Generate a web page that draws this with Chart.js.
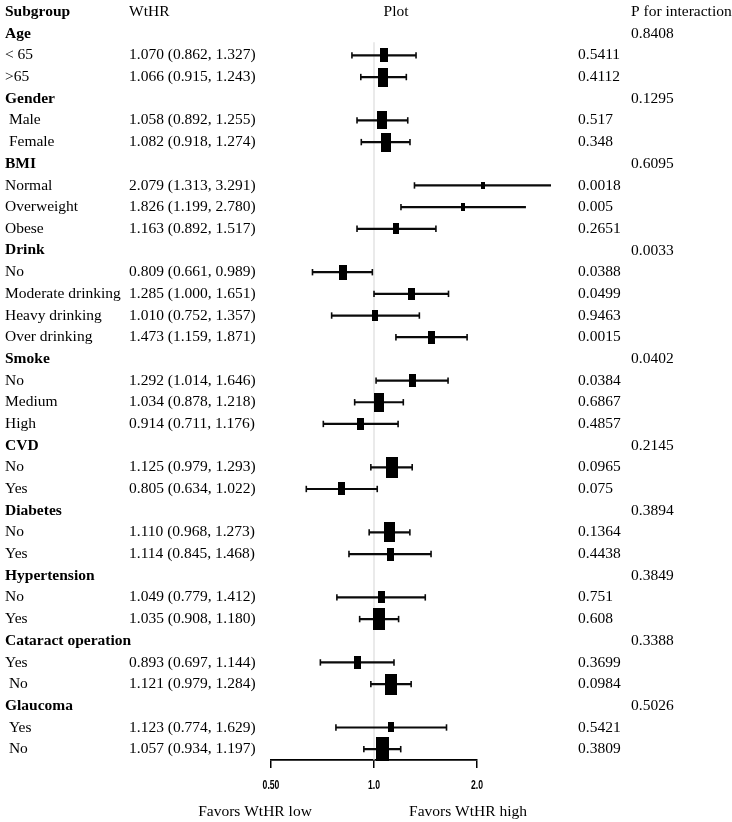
<!DOCTYPE html>
<html>
<head>
<meta charset="utf-8">
<script src="https://cdn.jsdelivr.net/npm/chart.js@4.4.0/dist/chart.umd.min.js"></script>
<style>
  html, body { margin: 0; padding: 0; background: #fff; }
  #wrap { position: relative; width: 732px; height: 822px; }
</style>
</head>
<body>
<div id="wrap"><canvas id="forest"></canvas></div>
<script>
// Lignes du tableau (les titres de groupe n'ont pas d'estimation)
const rowLabels = ['Age', '< 65', '>65', 'Gender', ' Male', ' Female', 'BMI', 'Normal', 'Overweight', 'Obese',
  'Drink', 'No', 'Moderate drinking', 'Heavy drinking', 'Over drinking', 'Smoke', 'No', 'Medium', 'High',
  'CVD', 'No', 'Yes', 'Diabetes', 'No', 'Yes', 'Hypertension', 'No', 'Yes', 'Cataract operation', 'Yes', ' No',
  'Glaucoma', ' Yes', ' No'];

const estimates = [null, 1.070, 1.066, null, 1.058, 1.082, null, 2.079, 1.826, 1.163,
  null, 0.809, 1.285, 1.010, 1.473, null, 1.292, 1.034, 0.914,
  null, 1.125, 0.805, null, 1.110, 1.114, null, 1.049, 1.035, null, 0.893, 1.121,
  null, 1.123, 1.057];
const lower = [null, 0.862, 0.915, null, 0.892, 0.918, null, 1.313, 1.199, 0.892,
  null, 0.661, 1.000, 0.752, 1.159, null, 1.014, 0.878, 0.711,
  null, 0.979, 0.634, null, 0.968, 0.845, null, 0.779, 0.908, null, 0.697, 0.979,
  null, 0.774, 0.934];
const upper = [null, 1.327, 1.243, null, 1.255, 1.274, null, 3.291, 2.780, 1.517,
  null, 0.989, 1.651, 1.357, 1.871, null, 1.646, 1.218, 1.176,
  null, 1.293, 1.022, null, 1.273, 1.468, null, 1.412, 1.180, null, 1.144, 1.284,
  null, 1.629, 1.197];

// Poids relatifs (taille des carrés)
const weights = [null, 7.0, 9.7, null, 9.0, 9.7, null, 3.5, 4.0, 5.5,
  null, 7.5, 6.0, 5.3, 6.5, null, 6.3, 9.5, 6.2,
  null, 10.3, 6.7, null, 10.0, 6.3, null, 5.8, 11.2, null, 6.7, 10.5,
  null, 4.8, 12.0];

const pValues = ['', '0.5411', '0.4112', '', '0.517', '0.348', '', '0.0018', '0.005', '0.2651',
  '', '0.0388', '0.0499', '0.9463', '0.0015', '', '0.0384', '0.6867', '0.4857',
  '', '0.0965', '0.075', '', '0.1364', '0.4438', '', '0.751', '0.608', '', '0.3699', '0.0984',
  '', '0.5421', '0.3809'];
const pInteraction = ['0.8408', '', '', '0.1295', '', '', '0.6095', '', '', '',
  '0.0033', '', '', '', '', '0.0402', '', '', '',
  '0.2145', '', '', '0.3894', '', '', '0.3849', '', '', '0.3388', '', '',
  '0.5026', '', ''];

const columnTitles = ['Subgroup', 'WtHR', 'Plot', 'P for interaction'];
const tickValues = [0.5, 1, 2];
const tickLabels = ['0.50', '1.0', '2.0'];
const favorLabels = ['Favors WtHR low', 'Favors WtHR high'];

const serif = "'Liberation Serif', 'Times New Roman', serif";

// Une ligne (avec ses extrémités) par intervalle de confiance
let ciDatasets = [];
estimates.forEach((est, i) => {
    if (est === null) return;
    ciDatasets.push({
        type: 'line',
        data: [{x: lower[i], y: i + 1}, {x: upper[i], y: i + 1}],
        borderColor: '#0a0a0a',
        borderWidth: 2.2,
        pointStyle: 'line',
        rotation: 90,
        pointRadius: 3.2,
        pointBorderWidth: 1.6,
        pointBorderColor: '#0a0a0a',
        clip: false,
        order: 1
    });
});

// Carrés noirs, plus hauts que larges
let boxPoints = [];
let boxImages = [];
estimates.forEach((est, i) => {
    if (est === null) return;
    boxPoints.push({x: est, y: i + 1});
    const h = Math.round(weights[i] * 2);
    const c = document.createElement('canvas');
    c.width = Math.max(3, Math.round(h * 0.55));
    c.height = h;
    const g = c.getContext('2d');
    g.fillStyle = '#000';
    g.fillRect(0, 0, c.width, c.height);
    boxImages.push(c);
});

const textPlugin = {
    id: 'forestText',
    afterDraw(chart) {
        const ctx = chart.ctx;
        const ys = chart.scales.y;
        const xs = chart.scales.x;
        ctx.save();
        ctx.fillStyle = '#000';
        ctx.textBaseline = 'middle';

        // En-têtes
        const y0 = ys.getPixelForValue(0);
        ctx.font = 'bold 15.5px ' + serif;
        ctx.textAlign = 'left';
        ctx.fillText(columnTitles[0], 5, y0);
        ctx.font = '15.5px ' + serif;
        ctx.fillText(columnTitles[1], 129, y0);
        ctx.textAlign = 'center';
        ctx.fillText(columnTitles[2], 396, y0);
        ctx.textAlign = 'left';
        ctx.fillText(columnTitles[3], 631, y0);

        rowLabels.forEach((label, i) => {
            const y = ys.getPixelForValue(i + 1);
            const isHeader = estimates[i] === null;
            ctx.font = (isHeader ? 'bold ' : '') + '15.5px ' + serif;
            ctx.fillText(label, 5, y);
            ctx.font = '15.5px ' + serif;
            if (!isHeader) {
                const txt = estimates[i].toFixed(3) + ' (' + lower[i].toFixed(3) + ', ' + upper[i].toFixed(3) + ')';
                ctx.fillText(txt, 129, y);
            }
            if (pValues[i]) ctx.fillText(pValues[i], 578, y);
            if (pInteraction[i]) ctx.fillText(pInteraction[i], 631, y);
        });

        // Étiquettes de l'axe, en police étroite
        ctx.font = 'bold 13.5px "Liberation Sans", Arial, sans-serif';
        ctx.textAlign = 'center';
        tickValues.forEach((v, k) => {
            ctx.save();
            ctx.translate(xs.getPixelForValue(v), ys.bottom + 25);
            ctx.scale(0.64, 1);
            ctx.fillText(tickLabels[k], 0, 0);
            ctx.restore();
        });

        const yf = ys.getPixelForValue(36.9);
        ctx.font = '15.5px ' + serif;
        ctx.textAlign = 'center';
        ctx.fillText(favorLabels[0], 255, yf);
        ctx.fillText(favorLabels[1], 468, yf);
        ctx.restore();
    }
};

new Chart(
    document.getElementById('forest'),
    {
        type: 'scatter',
        data: {
            datasets: [
                {
                    data: boxPoints,
                    pointStyle: ctx => boxImages[ctx.dataIndex],
                    pointRadius: 6,
                    clip: false,
                    order: 0
                },
                ...ciDatasets,
                {
                    type: 'line',
                    data: [{x: 1, y: 1.4}, {x: 1, y: 34.5}],
                    borderColor: '#dcdcdc',
                    borderWidth: 1.2,
                    pointRadius: 0,
                    order: 2
                }
            ]
        },
        options: {
            responsive: true,
            maintainAspectRatio: false,
            animation: false,
            events: [],
            layout: {
                padding: {left: 271, right: 255, top: 12, bottom: 0}
            },
            plugins: {
                legend: {display: false},
                tooltip: {enabled: false}
            },
            scales: {
                x: {
                    type: 'logarithmic',
                    min: 0.5,
                    max: 2,
                    afterBuildTicks: scale => {
                        scale.ticks = tickValues.map(v => ({value: v}));
                    },
                    afterFit: scale => {
                        scale.height = 62;
                    },
                    grid: {
                        drawOnChartArea: false,
                        drawTicks: true,
                        tickLength: 8,
                        color: '#000',
                        lineWidth: 1.5
                    },
                    border: {
                        display: true,
                        color: '#000',
                        width: 1.8
                    },
                    ticks: {
                        display: false
                    }
                },
                y: {
                    type: 'linear',
                    reverse: true,
                    min: 0,
                    max: 34.5,
                    display: false
                }
            }
        },
        plugins: [textPlugin]
    }
);
</script>
</body>
</html>
